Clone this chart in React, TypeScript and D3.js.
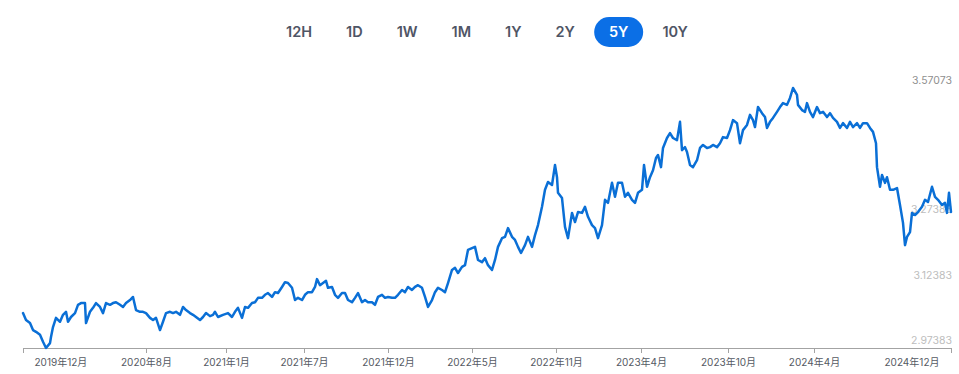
import React, { useEffect, useRef } from "react";
import * as d3 from "d3";

// 时间范围按钮
const RANGES = ["12H", "1D", "1W", "1M", "1Y", "2Y", "5Y", "10Y"];
const ACTIVE_RANGE = "5Y";

// 起始日期, 数据以距起始日的天数记录
const START_DATE = new Date(2019, 11, 1);

// x 轴刻度 (天数偏移) 与标签
const tickDays = [0, 246, 406, 562, 730, 898, 1066, 1236, 1410, 1582, 1856];
const tickLabels = [
  "2019年12月", "2020年8月", "2021年1月", "2021年7月", "2021年12月", "2022年5月",
  "2022年11月", "2023年4月", "2023年10月", "2024年4月", "2024年12月",
];

// y 轴标签数值 (最大值另外显示)
const yTickValues = [2.97383, 3.12383, 3.27383];

// [天数偏移, 收盘价]
const series: [number, number][] = [
  [0, 3.054], [6, 3.038], [14, 3.031], [20, 3.015], [26, 3.011], [34, 3.004], [40, 2.988], [46, 2.97383],
  [54, 2.985], [56, 2.999], [60, 3.022], [66, 3.043], [74, 3.034], [80, 3.05], [86, 3.057], [90, 3.034],
  [96, 3.045], [104, 3.054], [110, 3.073], [116, 3.077], [124, 3.077], [126, 3.031], [134, 3.057], [140, 3.066],
  [146, 3.077], [154, 3.068], [160, 3.054], [166, 3.077], [174, 3.073], [180, 3.077], [186, 3.079], [194, 3.073],
  [200, 3.068], [206, 3.077], [214, 3.084], [220, 3.091], [226, 3.061], [234, 3.057], [240, 3.057], [246, 3.054],
  [254, 3.043], [260, 3.038], [266, 3.043], [274, 3.015], [280, 3.034], [286, 3.054], [294, 3.057], [300, 3.054],
  [306, 3.057], [314, 3.05], [320, 3.068], [326, 3.061], [334, 3.054], [340, 3.05], [346, 3.045], [354, 3.038],
  [360, 3.045], [366, 3.054], [374, 3.047], [380, 3.05], [384, 3.057], [390, 3.045], [400, 3.05], [410, 3.054],
  [418, 3.045], [424, 3.057], [430, 3.066], [438, 3.043], [444, 3.068], [450, 3.066], [458, 3.077], [464, 3.079],
  [470, 3.089], [478, 3.089], [484, 3.096], [490, 3.1], [498, 3.091], [504, 3.102], [510, 3.1], [518, 3.114],
  [524, 3.125], [530, 3.123], [538, 3.112], [544, 3.084], [550, 3.089], [558, 3.084], [564, 3.096], [570, 3.102],
  [578, 3.102], [584, 3.114], [588, 3.132], [594, 3.118], [600, 3.123], [606, 3.128], [610, 3.112], [618, 3.114],
  [624, 3.096], [630, 3.089], [638, 3.1], [644, 3.1], [650, 3.084], [658, 3.079], [664, 3.089], [670, 3.1],
  [678, 3.079], [684, 3.084], [690, 3.079], [698, 3.079], [704, 3.073], [710, 3.091], [718, 3.096], [724, 3.089],
  [730, 3.091], [738, 3.089], [744, 3.089], [750, 3.096], [758, 3.107], [764, 3.102], [770, 3.114], [778, 3.107],
  [784, 3.114], [790, 3.118], [798, 3.112], [804, 3.091], [810, 3.068], [818, 3.084], [824, 3.102], [830, 3.112],
  [838, 3.107], [844, 3.102], [850, 3.123], [858, 3.153], [864, 3.158], [870, 3.146], [878, 3.16], [884, 3.164],
  [890, 3.199], [898, 3.203], [904, 3.206], [910, 3.176], [918, 3.171], [924, 3.18], [930, 3.164], [938, 3.153],
  [944, 3.176], [950, 3.206], [958, 3.226], [964, 3.229], [970, 3.249], [978, 3.229], [984, 3.222], [990, 3.206],
  [996, 3.192], [1004, 3.21], [1010, 3.229], [1018, 3.206], [1024, 3.233], [1030, 3.256], [1038, 3.298], [1044, 3.337],
  [1050, 3.355], [1058, 3.348], [1064, 3.394], [1068, 3.366], [1070, 3.33], [1078, 3.318], [1084, 3.252], [1090, 3.226],
  [1098, 3.284], [1104, 3.263], [1110, 3.286], [1118, 3.284], [1124, 3.298], [1130, 3.275], [1138, 3.256], [1144, 3.249],
  [1150, 3.226], [1158, 3.256], [1164, 3.314], [1170, 3.307], [1178, 3.353], [1184, 3.321], [1190, 3.353], [1198, 3.353],
  [1204, 3.321], [1210, 3.33], [1218, 3.314], [1224, 3.307], [1230, 3.33], [1238, 3.337], [1242, 3.394], [1248, 3.344],
  [1254, 3.366], [1260, 3.382], [1266, 3.41], [1270, 3.417], [1276, 3.389], [1280, 3.433], [1288, 3.456], [1294, 3.467],
  [1300, 3.456], [1308, 3.451], [1314, 3.493], [1318, 3.428], [1324, 3.435], [1328, 3.424], [1334, 3.394], [1340, 3.389],
  [1348, 3.405], [1354, 3.433], [1360, 3.44], [1368, 3.433], [1374, 3.435], [1380, 3.44], [1388, 3.435], [1394, 3.444],
  [1400, 3.458], [1408, 3.456], [1414, 3.474], [1420, 3.497], [1428, 3.49], [1434, 3.444], [1440, 3.474], [1448, 3.486],
  [1454, 3.509], [1460, 3.497], [1464, 3.481], [1470, 3.527], [1478, 3.513], [1484, 3.504], [1488, 3.479], [1494, 3.493],
  [1500, 3.502], [1508, 3.516], [1514, 3.527], [1520, 3.536], [1528, 3.532], [1534, 3.548], [1540, 3.57073], [1548, 3.555],
  [1550, 3.532], [1558, 3.52], [1564, 3.516], [1568, 3.536], [1574, 3.516], [1580, 3.504], [1588, 3.527], [1594, 3.513],
  [1600, 3.516], [1608, 3.504], [1614, 3.513], [1620, 3.502], [1628, 3.493], [1634, 3.479], [1640, 3.49], [1648, 3.479],
  [1654, 3.493], [1660, 3.481], [1668, 3.49], [1674, 3.479], [1680, 3.49], [1688, 3.49], [1694, 3.479], [1700, 3.47],
  [1706, 3.444], [1708, 3.389], [1714, 3.344], [1718, 3.371], [1724, 3.353], [1728, 3.366], [1734, 3.337], [1740, 3.337],
  [1748, 3.341], [1754, 3.302], [1760, 3.261], [1764, 3.21], [1768, 3.229], [1774, 3.24], [1778, 3.284], [1784, 3.279],
  [1790, 3.286], [1798, 3.298], [1804, 3.314], [1810, 3.309], [1818, 3.344], [1824, 3.321], [1830, 3.314], [1838, 3.302],
  [1844, 3.307], [1848, 3.284], [1852, 3.33], [1856, 3.286],
];

const WIDTH = 959;
const HEIGHT = 374;

const App: React.FC = () => {
  const svgRef = useRef<SVGSVGElement>(null);

  useEffect(() => {
    if (!svgRef.current) return;
    document.body.style.margin = "0";

    const svg = d3.select(svgRef.current);
    svg.selectAll("*").remove();

    const left = 23;
    const right = 951;
    const top = 88;
    const bottom = 348;

    const toDate = (day: number) => d3.timeDay.offset(START_DATE, day);

    const x = d3
      .scaleTime()
      .domain([toDate(0), toDate(series[series.length - 1][0])])
      .range([left, right]);

    const [minV, maxV] = d3.extent(series, (d) => d[1]) as [number, number];
    const y = d3.scaleLinear().domain([minV, maxV]).range([bottom, top]);

    // 时间范围按钮
    const btnGroup = svg.append("g").attr("class", "ranges");
    const items = btnGroup
      .selectAll("g")
      .data(RANGES)
      .enter()
      .append("g");

    const labels = items
      .append("text")
      .attr("text-anchor", "middle")
      .attr("dy", "0.35em")
      .style("font-family", "Inter, 'Noto Sans', sans-serif")
      .style("font-size", "14.5px")
      .style("font-weight", 600)
      .style("fill", (d) => (d === ACTIVE_RANGE ? "#ffffff" : "#4f5565"))
      .text((d) => d);

    const widths = (labels.nodes() as SVGTextElement[]).map((n) => n.getComputedTextLength());
    const padX = 15.5;
    const gap = 3;
    const total = d3.sum(widths) + widths.length * padX * 2 + (widths.length - 1) * gap;
    let cursor = (left + right) / 2 - total / 2;
    items.each(function (d, i) {
      const w = widths[i] + padX * 2;
      const g = d3.select(this);
      g.attr("transform", `translate(${cursor + w / 2}, 32)`);
      if (d === ACTIVE_RANGE) {
        g.insert("rect", "text")
          .attr("x", -24.5)
          .attr("y", -15)
          .attr("width", 49)
          .attr("height", 30)
          .attr("rx", 15)
          .attr("fill", "#0b6fe6");
      }
      cursor += w + gap;
    });

    // y 轴标签 (在折线下方)
    const yLabels = svg.append("g");
    yLabels
      .selectAll("text")
      .data([...yTickValues, maxV])
      .enter()
      .append("text")
      .attr("x", 952)
      .attr("y", (d) => y(d) - 4)
      .attr("text-anchor", "end")
      .style("font-family", "Inter, 'Noto Sans', sans-serif")
      .style("font-size", "10.5px")
      .style("fill", (d) => (d === maxV ? "#8f8f8f" : "#bdbdbd"))
      .text((d) => d.toFixed(5));

    // x 轴
    const xAxis = d3
      .axisBottom<Date>(x)
      .tickValues(tickDays.map(toDate))
      .tickFormat((_, i) => tickLabels[i])
      .tickSize(5)
      .tickSizeOuter(5);

    const axisG = svg
      .append("g")
      .attr("transform", `translate(0, ${bottom})`)
      .call(xAxis);

    axisG.select(".domain").attr("stroke", "#a3a3a3");
    axisG.selectAll(".tick line").attr("stroke", "#a3a3a3");
    axisG
      .selectAll<SVGTextElement, Date>(".tick text")
      .attr("y", 11)
      .attr("dy", "0.71em")
      .style("font-family", "Inter, 'Noto Sans CJK SC', sans-serif")
      .style("font-size", "10px")
      .style("fill", "#555a63")
      .each(function (_, i) {
        if (i === 0) d3.select(this).attr("text-anchor", "start").attr("x", 11);
        if (i === tickDays.length - 1) d3.select(this).attr("text-anchor", "end").attr("x", -12);
      });

    // 折线
    const line = d3
      .line<[number, number]>()
      .x((d) => x(toDate(d[0])))
      .y((d) => y(d[1]));

    svg
      .append("path")
      .datum(series)
      .attr("d", line)
      .attr("fill", "none")
      .attr("stroke", "#0a6fd6")
      .attr("stroke-width", 2.5)
      .attr("stroke-linejoin", "round")
      .attr("stroke-linecap", "round");
  }, []);

  return <svg ref={svgRef} width={WIDTH} height={HEIGHT} style={{ display: "block" }} />;
};

export default App;
